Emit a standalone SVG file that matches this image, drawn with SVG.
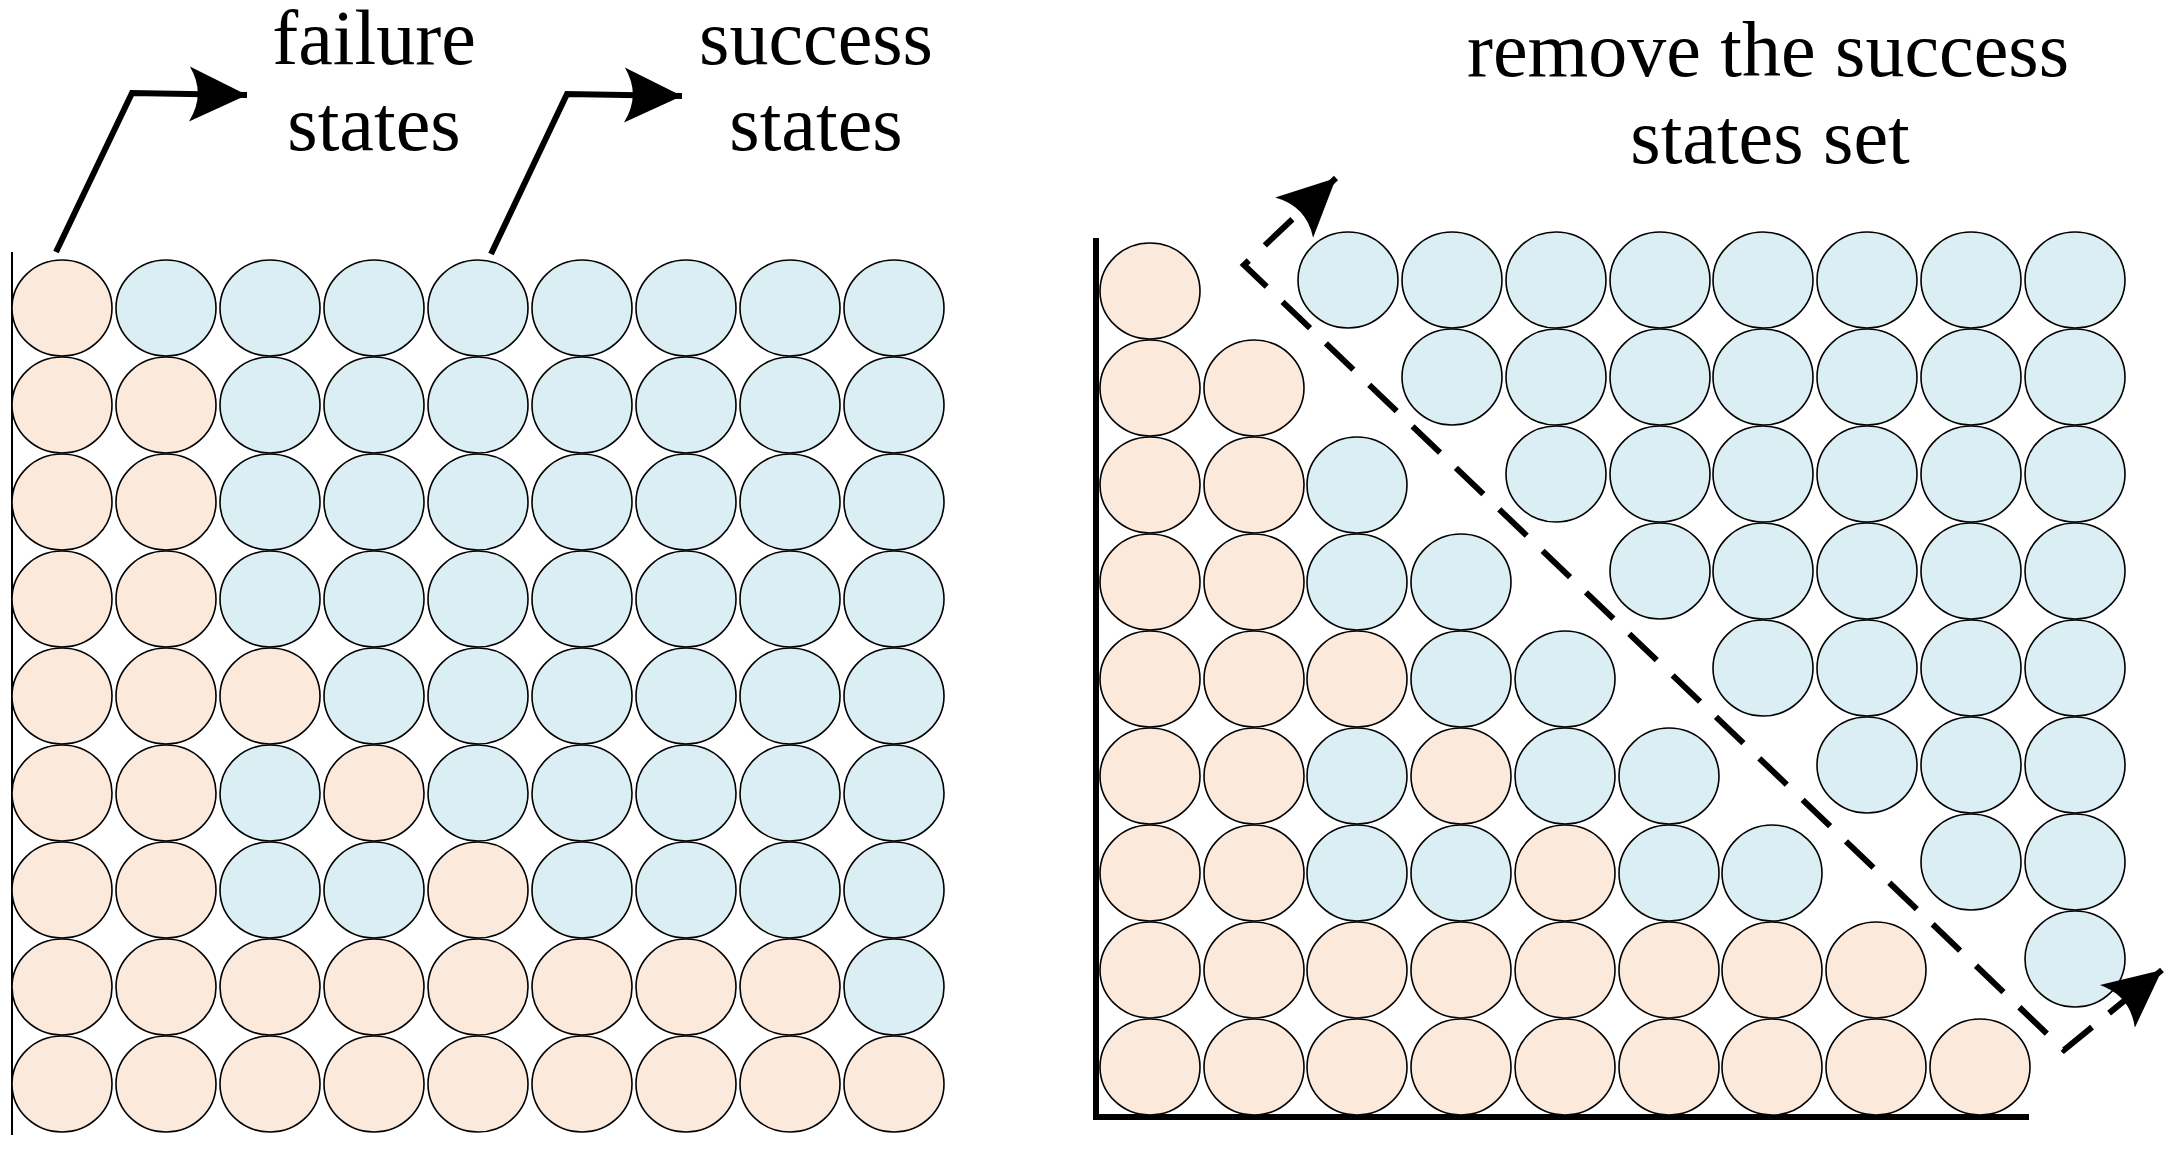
<svg xmlns="http://www.w3.org/2000/svg" width="2172" height="1150" viewBox="0 0 2172 1150">
<style>
.f{fill:#FBE9DB;stroke:#000;stroke-width:1.6}
.s{fill:#DAEEF3;stroke:#000;stroke-width:1.6}
.t{font-family:"Liberation Serif",serif;font-size:78px;fill:#000;text-anchor:middle}
.ln{fill:none;stroke:#000;stroke-width:6}
.ds{fill:none;stroke:#000;stroke-width:6;stroke-dasharray:38 22}
</style>
<defs>
<marker id="ah" markerUnits="userSpaceOnUse" markerWidth="60" markerHeight="60" viewBox="0 0 50 50" refX="48" refY="25" orient="auto-start-reverse"><path d="M0,2 Q14,25 0,48 L48,25 Z" fill="#000"/></marker>
<ellipse id="e" cx="0" cy="0" rx="50" ry="48"/>
</defs>
<g id="labels">
<text class="t" x="374" y="64">failure</text>
<text class="t" x="374" y="150">states</text>
<text class="t" x="816" y="64">success</text>
<text class="t" x="816" y="150">states</text>
<text class="t" x="1768" y="76">remove the success</text>
<text class="t" x="1770" y="163">states set</text>
</g>
<g id="axes">
<line x1="12" y1="252" x2="12" y2="1135" stroke="#000" stroke-width="2"/>
<polyline class="ln" points="1096,238 1096,1117 2029,1117"/>
</g>
<g id="left-grid">
<g id="L0"><use href="#e" x="62" y="308" class="f"/><use href="#e" x="166" y="308" class="s"/><use href="#e" x="270" y="308" class="s"/><use href="#e" x="374" y="308" class="s"/><use href="#e" x="478" y="308" class="s"/><use href="#e" x="582" y="308" class="s"/><use href="#e" x="686" y="308" class="s"/><use href="#e" x="790" y="308" class="s"/><use href="#e" x="894" y="308" class="s"/></g>
<g id="L1"><use href="#e" x="62" y="405" class="f"/><use href="#e" x="166" y="405" class="f"/><use href="#e" x="270" y="405" class="s"/><use href="#e" x="374" y="405" class="s"/><use href="#e" x="478" y="405" class="s"/><use href="#e" x="582" y="405" class="s"/><use href="#e" x="686" y="405" class="s"/><use href="#e" x="790" y="405" class="s"/><use href="#e" x="894" y="405" class="s"/></g>
<g id="L2"><use href="#e" x="62" y="502" class="f"/><use href="#e" x="166" y="502" class="f"/><use href="#e" x="270" y="502" class="s"/><use href="#e" x="374" y="502" class="s"/><use href="#e" x="478" y="502" class="s"/><use href="#e" x="582" y="502" class="s"/><use href="#e" x="686" y="502" class="s"/><use href="#e" x="790" y="502" class="s"/><use href="#e" x="894" y="502" class="s"/></g>
<g id="L3"><use href="#e" x="62" y="599" class="f"/><use href="#e" x="166" y="599" class="f"/><use href="#e" x="270" y="599" class="s"/><use href="#e" x="374" y="599" class="s"/><use href="#e" x="478" y="599" class="s"/><use href="#e" x="582" y="599" class="s"/><use href="#e" x="686" y="599" class="s"/><use href="#e" x="790" y="599" class="s"/><use href="#e" x="894" y="599" class="s"/></g>
<g id="L4"><use href="#e" x="62" y="696" class="f"/><use href="#e" x="166" y="696" class="f"/><use href="#e" x="270" y="696" class="f"/><use href="#e" x="374" y="696" class="s"/><use href="#e" x="478" y="696" class="s"/><use href="#e" x="582" y="696" class="s"/><use href="#e" x="686" y="696" class="s"/><use href="#e" x="790" y="696" class="s"/><use href="#e" x="894" y="696" class="s"/></g>
<g id="L5"><use href="#e" x="62" y="793" class="f"/><use href="#e" x="166" y="793" class="f"/><use href="#e" x="270" y="793" class="s"/><use href="#e" x="374" y="793" class="f"/><use href="#e" x="478" y="793" class="s"/><use href="#e" x="582" y="793" class="s"/><use href="#e" x="686" y="793" class="s"/><use href="#e" x="790" y="793" class="s"/><use href="#e" x="894" y="793" class="s"/></g>
<g id="L6"><use href="#e" x="62" y="890" class="f"/><use href="#e" x="166" y="890" class="f"/><use href="#e" x="270" y="890" class="s"/><use href="#e" x="374" y="890" class="s"/><use href="#e" x="478" y="890" class="f"/><use href="#e" x="582" y="890" class="s"/><use href="#e" x="686" y="890" class="s"/><use href="#e" x="790" y="890" class="s"/><use href="#e" x="894" y="890" class="s"/></g>
<g id="L7"><use href="#e" x="62" y="987" class="f"/><use href="#e" x="166" y="987" class="f"/><use href="#e" x="270" y="987" class="f"/><use href="#e" x="374" y="987" class="f"/><use href="#e" x="478" y="987" class="f"/><use href="#e" x="582" y="987" class="f"/><use href="#e" x="686" y="987" class="f"/><use href="#e" x="790" y="987" class="f"/><use href="#e" x="894" y="987" class="s"/></g>
<g id="L8"><use href="#e" x="62" y="1084" class="f"/><use href="#e" x="166" y="1084" class="f"/><use href="#e" x="270" y="1084" class="f"/><use href="#e" x="374" y="1084" class="f"/><use href="#e" x="478" y="1084" class="f"/><use href="#e" x="582" y="1084" class="f"/><use href="#e" x="686" y="1084" class="f"/><use href="#e" x="790" y="1084" class="f"/><use href="#e" x="894" y="1084" class="f"/></g>
</g>
<g id="right-lower">
<g id="R0"><use href="#e" x="1150" y="291" class="f"/></g>
<g id="R1"><use href="#e" x="1150" y="388" class="f"/><use href="#e" x="1254" y="388" class="f"/></g>
<g id="R2"><use href="#e" x="1150" y="485" class="f"/><use href="#e" x="1254" y="485" class="f"/><use href="#e" x="1357" y="485" class="s"/></g>
<g id="R3"><use href="#e" x="1150" y="582" class="f"/><use href="#e" x="1254" y="582" class="f"/><use href="#e" x="1357" y="582" class="s"/><use href="#e" x="1461" y="582" class="s"/></g>
<g id="R4"><use href="#e" x="1150" y="679" class="f"/><use href="#e" x="1254" y="679" class="f"/><use href="#e" x="1357" y="679" class="f"/><use href="#e" x="1461" y="679" class="s"/><use href="#e" x="1565" y="679" class="s"/></g>
<g id="R5"><use href="#e" x="1150" y="776" class="f"/><use href="#e" x="1254" y="776" class="f"/><use href="#e" x="1357" y="776" class="s"/><use href="#e" x="1461" y="776" class="f"/><use href="#e" x="1565" y="776" class="s"/><use href="#e" x="1669" y="776" class="s"/></g>
<g id="R6"><use href="#e" x="1150" y="873" class="f"/><use href="#e" x="1254" y="873" class="f"/><use href="#e" x="1357" y="873" class="s"/><use href="#e" x="1461" y="873" class="s"/><use href="#e" x="1565" y="873" class="f"/><use href="#e" x="1669" y="873" class="s"/><use href="#e" x="1772" y="873" class="s"/></g>
<g id="R7"><use href="#e" x="1150" y="970" class="f"/><use href="#e" x="1254" y="970" class="f"/><use href="#e" x="1357" y="970" class="f"/><use href="#e" x="1461" y="970" class="f"/><use href="#e" x="1565" y="970" class="f"/><use href="#e" x="1669" y="970" class="f"/><use href="#e" x="1772" y="970" class="f"/><use href="#e" x="1876" y="970" class="f"/></g>
<g id="R8"><use href="#e" x="1150" y="1067" class="f"/><use href="#e" x="1254" y="1067" class="f"/><use href="#e" x="1357" y="1067" class="f"/><use href="#e" x="1461" y="1067" class="f"/><use href="#e" x="1565" y="1067" class="f"/><use href="#e" x="1669" y="1067" class="f"/><use href="#e" x="1772" y="1067" class="f"/><use href="#e" x="1876" y="1067" class="f"/><use href="#e" x="1980" y="1067" class="f"/></g>
</g>
<g id="right-upper">
<g id="U0"><use href="#e" x="1348" y="280" class="s"/><use href="#e" x="1452" y="280" class="s"/><use href="#e" x="1556" y="280" class="s"/><use href="#e" x="1660" y="280" class="s"/><use href="#e" x="1763" y="280" class="s"/><use href="#e" x="1867" y="280" class="s"/><use href="#e" x="1971" y="280" class="s"/><use href="#e" x="2075" y="280" class="s"/></g>
<g id="U1"><use href="#e" x="1452" y="377" class="s"/><use href="#e" x="1556" y="377" class="s"/><use href="#e" x="1660" y="377" class="s"/><use href="#e" x="1763" y="377" class="s"/><use href="#e" x="1867" y="377" class="s"/><use href="#e" x="1971" y="377" class="s"/><use href="#e" x="2075" y="377" class="s"/></g>
<g id="U2"><use href="#e" x="1556" y="474" class="s"/><use href="#e" x="1660" y="474" class="s"/><use href="#e" x="1763" y="474" class="s"/><use href="#e" x="1867" y="474" class="s"/><use href="#e" x="1971" y="474" class="s"/><use href="#e" x="2075" y="474" class="s"/></g>
<g id="U3"><use href="#e" x="1660" y="571" class="s"/><use href="#e" x="1763" y="571" class="s"/><use href="#e" x="1867" y="571" class="s"/><use href="#e" x="1971" y="571" class="s"/><use href="#e" x="2075" y="571" class="s"/></g>
<g id="U4"><use href="#e" x="1763" y="668" class="s"/><use href="#e" x="1867" y="668" class="s"/><use href="#e" x="1971" y="668" class="s"/><use href="#e" x="2075" y="668" class="s"/></g>
<g id="U5"><use href="#e" x="1867" y="765" class="s"/><use href="#e" x="1971" y="765" class="s"/><use href="#e" x="2075" y="765" class="s"/></g>
<g id="U6"><use href="#e" x="1971" y="862" class="s"/><use href="#e" x="2075" y="862" class="s"/></g>
<g id="U7"><use href="#e" x="2075" y="959" class="s"/></g>
</g>
<g id="connectors">
<polyline class="ln" points="56,252 132,93 247,95" marker-end="url(#ah)"/>
<polyline class="ln" points="491,254 567,94 682,96" marker-end="url(#ah)"/>
<polyline class="ds" points="1336,178 1244,265 2064,1050 2162,970" marker-start="url(#ah)" marker-end="url(#ah)"/>
</g>
</svg>
